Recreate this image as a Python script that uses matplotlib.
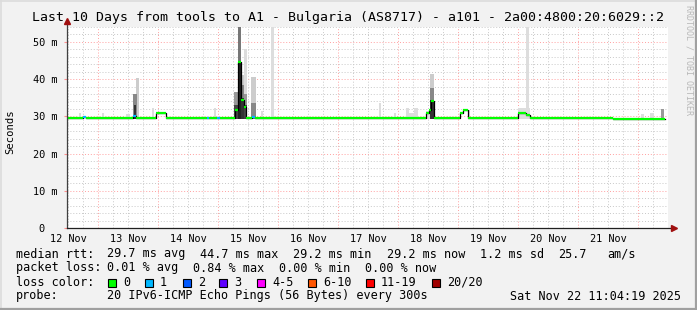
import matplotlib
matplotlib.use("Agg")
import matplotlib.pyplot as plt
from matplotlib.lines import Line2D
from matplotlib.patches import Rectangle

W, H = 697, 310
plt.rcParams['font.family'] = 'DejaVu Sans Mono'

# time axis: days since 12 Nov 00:00
day_labels = ["12 Nov", "13 Nov", "14 Nov", "15 Nov", "16 Nov",
              "17 Nov", "18 Nov", "19 Nov", "20 Nov", "21 Nov"]
t_start, t_end = 0.483, 10.5

# median rtt (ms), step segments: start time, value, loss count
med_t = [0.483, 0.75, 0.8, 1.583, 1.633, 1.967, 2.133, 2.817, 2.85, 2.983,
         3.033, 3.283, 3.333, 3.383, 3.433, 3.467, 3.567, 3.617, 6.467, 6.517,
         6.55, 6.6, 7.033, 7.083, 7.167, 8.0, 8.133, 8.2, 9.583, 9.8, 9.85]
med_v = [29.5, 29.7, 29.5, 30.0, 29.5, 31.0, 29.5, 29.5, 29.5, 29.5,
         29.5, 31.7, 44.7, 34.4, 32.6, 29.5, 29.9, 29.5, 31.0, 31.7,
         34.0, 29.5, 31.0, 31.6, 29.5, 31.0, 30.4, 29.5, 29.2, 29.4, 29.2]
med_loss = [0, 1, 0, 1, 0, 0, 0, 1, 0, 1,
            0, 0, 0, 0, 0, 0, 1, 0, 0, 0,
            0, 0, 0, 0, 0, 0, 0, 0, 0, 0, 0]
med_end = 10.45

# smoke (spread of the 20 pings)
smoke_t0 = [0.683, 1.067, 1.467, 1.9, 2.933, 1.633, 1.583, 1.592,
            3.267, 3.267, 3.333, 3.333, 3.383, 3.383, 3.383, 3.433, 3.433, 3.433,
            3.55, 3.55, 3.717, 3.883,
            5.683, 5.933, 6.133, 6.183, 6.267, 6.467, 6.533, 6.533, 6.533, 7.167,
            8.0, 8.133, 10.05, 10.2, 10.383]
smoke_t1 = [0.717, 1.1, 1.533, 1.933, 2.967, 1.683, 1.65, 1.625,
            3.333, 3.333, 3.383, 3.383, 3.433, 3.433, 3.433, 3.483, 3.483, 3.483,
            3.633, 3.633, 3.75, 3.933,
            5.717, 5.967, 6.183, 6.267, 6.333, 6.533, 6.6, 6.6, 6.6, 7.2,
            8.2, 8.183, 10.1, 10.267, 10.433]
smoke_hi = [31.0, 31.0, 30.6, 32.2, 32.3, 40.3, 36.0, 33.0,
            36.5, 33.0, 54.0, 45.0, 41.0, 38.5, 35.0, 48.0, 36.0, 33.0,
            40.6, 33.5, 31.5, 54.0,
            33.6, 31.0, 32.3, 31.0, 32.2, 31.5, 41.4, 37.5, 34.5, 31.6,
            32.2, 54.0, 30.6, 30.8, 31.9]
smoke_shade = ['#dddddd', '#dddddd', '#dddddd', '#dddddd', '#dddddd', '#cccccc', '#888888', '#333333',
               '#999999', '#444444', '#777777', '#222222', '#cccccc', '#888888', '#333333', '#dddddd', '#999999', '#444444',
               '#cccccc', '#888888', '#dddddd', '#dddddd',
               '#dddddd', '#dddddd', '#dddddd', '#dddddd', '#dddddd', '#dddddd', '#cccccc', '#888888', '#333333', '#dddddd',
               '#dddddd', '#dddddd', '#dddddd', '#dddddd', '#999999']
smoke_lo = 29.3

loss_labels = ["0", "1", "2", "3", "4-5", "6-10", "11-19", "20/20"]
loss_colors = ['#00ff00', '#00b8ff', '#0059ff', '#5e00ff', '#ff00ff', '#ff5500', '#ff0000', '#a10000']

fig = plt.figure(figsize=(W / 100, H / 100), dpi=100)
fig.patch.set_facecolor('#f2f2f2')


def fx(px):
    return px / W


def fy(py):
    return 1 - py / H


# border
fig.add_artist(Line2D([0, 1], [fy(0.5), fy(0.5)], color='#dcdcdc', lw=1.2))
fig.add_artist(Line2D([fx(0.5), fx(0.5)], [0, 1], color='#dcdcdc', lw=1.2))
fig.add_artist(Line2D([0, 1], [fy(309), fy(309)], color='#a0a0a0', lw=1.6))
fig.add_artist(Line2D([fx(696), fx(696)], [0, 1], color='#a0a0a0', lw=1.6))

ax = fig.add_axes([fx(67), fy(228), fx(668) - fx(67), fy(27) - fy(228)])
ax.set_facecolor('white')
ax.set_xlim(t_start, t_end)
ax.set_ylim(0, 54)
for s in ax.spines.values():
    s.set_visible(False)

# grid
k = 0
while k * 0.25 <= t_end:
    t = k * 0.25
    if t > t_start:
        if k % 4 == 0:
            ax.axvline(t, color='#ffa0a0', lw=0.7, ls=(0, (1, 2)), zorder=1)
        else:
            ax.axvline(t, color='#c8c8c8', lw=0.7, ls=(0, (1, 2)), zorder=1)
    k += 1
for v in range(2, 55, 2):
    if v % 10 == 0:
        ax.axhline(v, color='#ffa0a0', lw=0.7, ls=(0, (1, 2)), zorder=1)
    else:
        ax.axhline(v, color='#c8c8c8', lw=0.7, ls=(0, (1, 2)), zorder=1)

# smoke
for t0, t1, hi, c in zip(smoke_t0, smoke_t1, smoke_hi, smoke_shade):
    ax.bar(t0, hi - smoke_lo, width=t1 - t0, bottom=smoke_lo, align='edge',
           color=c, lw=0, zorder=2)

# median line
ts = med_t + [med_end]
vs = med_v + [med_v[-1]]
ax.step(ts, vs, where='post', color='black', lw=0.9, zorder=3)
for i in range(len(med_t)):
    ax.hlines(med_v[i], ts[i], ts[i + 1], color=loss_colors[med_loss[i]],
              lw=1.6, zorder=4)

# axes with arrows
ax.plot([t_start, t_start], [0, 55.3], color='#404040', lw=0.9, clip_on=False, zorder=5)
ax.plot([t_start, 10.58], [0, 0], color='#202020', lw=0.9, clip_on=False, zorder=5)
ax.plot([t_start], [55.6], marker='^', color='#a01010', ms=4, clip_on=False, zorder=6)
ax.plot([10.6], [0], marker='>', color='#a01010', ms=4, clip_on=False, zorder=6)

# ticks
ax.set_xticks([d + 0.5 for d in range(10)])
ax.set_xticklabels(day_labels, fontsize=7.4)
ax.tick_params(axis='x', length=0, pad=4)
ax.set_yticks([0, 10, 20, 30, 40, 50])
ax.set_yticklabels(["0  ", "10 m", "20 m", "30 m", "40 m", "50 m"], fontsize=7.4)
ax.tick_params(axis='y', length=2, color='#ff9090', pad=5)
ax.set_ylabel("Seconds", fontsize=7.6)
ax.yaxis.set_label_coords(-(67 - 15) / (668 - 67), 0.48)

# title and watermark
fig.text(fx(348), fy(18), "Last 10 Days from tools to A1 - Bulgaria (AS8717) - a101 - 2a00:4800:20:6029::2",
         ha='center', va='center', fontsize=9.5)
fig.text(fx(689), fy(5), "RRDTOOL / TOBI OETIKER", rotation=270, ha='center', va='top',
         fontsize=6, color='#b8b8b8')

# legend
fs = 8.5
row1 = [(16, "median rtt:"), (107, "29.7 ms avg"), (200, "44.7 ms max"), (293, "29.2 ms min"),
        (387, "29.2 ms now"), (480, "1.2 ms sd"), (558, "25.7"), (607, "am/s")]
row2 = [(16, "packet loss:"), (107, "0.01 % avg"), (193, "0.84 % max"), (279, "0.00 % min"),
        (365, "0.00 % now")]
for x, s in row1:
    fig.text(fx(x), fy(254), s, ha='left', va='center', fontsize=fs)
for x, s in row2:
    fig.text(fx(x), fy(268), s, ha='left', va='center', fontsize=fs)
fig.text(fx(16), fy(282), "loss color:", ha='left', va='center', fontsize=fs)
box_x = [108, 145, 183, 219, 257, 308, 366, 432]
for bx, lab, c in zip(box_x, loss_labels, loss_colors):
    fig.add_artist(Rectangle((fx(bx), fy(286.5)), fx(8), 8 / H, facecolor=c,
                             edgecolor='black', lw=0.8))
    fig.text(fx(bx + 15), fy(282), lab, ha='left', va='center', fontsize=fs)
fig.text(fx(16), fy(296), "probe:", ha='left', va='center', fontsize=fs)
fig.text(fx(107), fy(296), "20 IPv6-ICMP Echo Pings (56 Bytes) every 300s", ha='left', va='center', fontsize=fs)
fig.text(fx(681), fy(296), "Sat Nov 22 11:04:19 2025", ha='right', va='center', fontsize=fs)

fig.savefig("out.png", dpi=100, facecolor=fig.get_facecolor())
